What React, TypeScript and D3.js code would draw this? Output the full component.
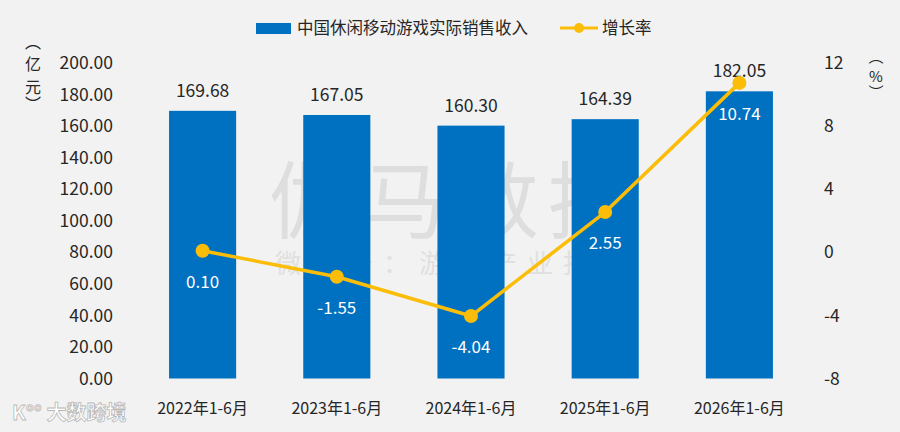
import React from "react";
import * as d3 from "d3";

const categories = ["2022年1-6月", "2023年1-6月", "2024年1-6月", "2025年1-6月", "2026年1-6月"];
const revenue = [169.68, 167.05, 160.3, 164.39, 182.05];
const growth = [0.1, -1.55, -4.04, 2.55, 10.74];
const leftTicks = [0, 20, 40, 60, 80, 100, 120, 140, 160, 180, 200];
const rightTicks = [-8, -4, 0, 4, 8, 12];
const barName = "中国休闲移动游戏实际销售收入";
const lineName = "增长率";

const W = 900;
const H = 432;
const FONT = "'Noto Sans CJK SC', 'Noto Sans', sans-serif";
const BLUE = "#0070c0";
const GOLD = "#fbbd08";
const TEXT = "#262626";

export default function App() {
  const x = d3.scaleBand<string>().domain(categories).range([135.5, 806.5]).paddingInner(0.5).paddingOuter(0.25);
  const yL = d3.scaleLinear().domain([0, 200]).range([378.5, 63]);
  const yR = d3.scaleLinear().domain([-8, 12]).range([378.5, 63]);
  const cx = (c: string) => (x(c) as number) + x.bandwidth() / 2;
  const line = d3
    .line<number>()
    .x((_, i) => cx(categories[i]))
    .y((d) => yR(d));

  return (
    <svg width={W} height={H} style={{ display: "block", position: "absolute", left: 0, top: 0 }} fontFamily={FONT}>
      <rect x={0} y={0} width={W} height={H} fill="#f2f2f2" />

      {/* watermark */}
      <text x={455} y={232} textAnchor="middle" fontSize={84} fill="#dedede" letterSpacing={9}>
        伽马数据
      </text>
      <text x={455} y={273} textAnchor="middle" fontSize={26} fill="#e0e0e0" letterSpacing={10}>
        微信号：游戏产业报告
      </text>

      {/* legend */}
      <rect x={256} y={23} width={35} height={11} fill={BLUE} />
      <text x={297} y={34} fontSize={16.5} fill={TEXT}>
        {barName}
      </text>
      <line x1={560} x2={598} y1={28} y2={28} stroke={GOLD} strokeWidth={3} />
      <circle cx={579} cy={28} r={5} fill={GOLD} />
      <text x={602} y={34} fontSize={16.5} fill={TEXT}>
        {lineName}
      </text>

      {/* axis titles */}
      {["︵", "亿", "元", "︶"].map((ch, i) => (
        <text key={ch + i} x={33} y={[48, 70, 93, 110][i]} textAnchor="middle" fontSize={16} fill={TEXT}>
          {ch}
        </text>
      ))}
      {["︵", "%", "︶"].map((ch, i) => (
        <text key={ch + i} x={876} y={[62, 82, 98][i]} textAnchor="middle" fontSize={15} fill={TEXT}>
          {ch}
        </text>
      ))}

      {/* left axis ticks */}
      {leftTicks.map((t) => (
        <text key={t} x={113} y={yL(t)} dy="0.35em" textAnchor="end" fontSize={17.5} fill={TEXT}>
          {t.toFixed(2)}
        </text>
      ))}
      {/* right axis ticks */}
      {rightTicks.map((t) => (
        <text key={t} x={824} y={yR(t)} dy="0.35em" textAnchor="start" fontSize={17.5} fill={TEXT}>
          {t}
        </text>
      ))}

      {/* bars */}
      {categories.map((c, i) => (
        <g key={c}>
          <rect x={x(c)} y={yL(revenue[i])} width={x.bandwidth()} height={yL(0) - yL(revenue[i])} fill={BLUE} />
          <text x={cx(c)} y={yL(revenue[i]) - 14} textAnchor="middle" fontSize={17.5} fill={TEXT}>
            {revenue[i].toFixed(2)}
          </text>
          <text x={cx(c)} y={414} textAnchor="middle" fontSize={16} fill={TEXT}>
            {c}
          </text>
        </g>
      ))}

      {/* line */}
      <path d={line(growth) || ""} fill="none" stroke={GOLD} strokeWidth={3.5} strokeLinejoin="round" />
      {growth.map((g, i) => (
        <g key={i}>
          <circle cx={cx(categories[i])} cy={yR(g)} r={7} fill={GOLD} />
          <text x={cx(categories[i])} y={yR(g) + 31} dy="0.35em" textAnchor="middle" fontSize={17} fill="#ffffff">
            {g.toFixed(2)}
          </text>
        </g>
      ))}

      {/* source logo */}
      <text x={12} y={420} fontSize={20} fill="#ffffff" stroke="#b8b8b8" strokeWidth={0.8} fontWeight={700}>
        K°° 大数跨境
      </text>
    </svg>
  );
}
